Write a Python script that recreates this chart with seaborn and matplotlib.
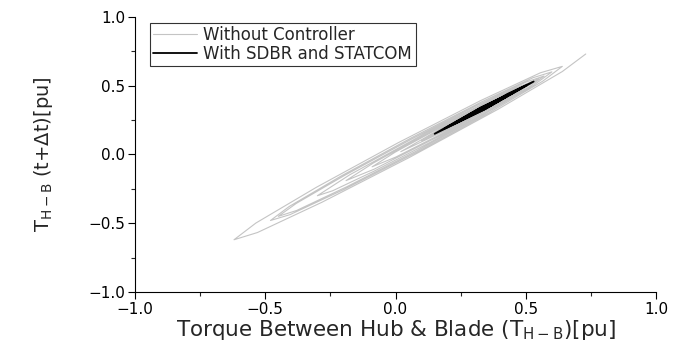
import pandas as pd
import matplotlib
matplotlib.use("Agg")
import matplotlib.pyplot as plt
from matplotlib.ticker import MultipleLocator
import seaborn as sns

# Phase plot vertices: T(t) on x, T(t+dt) on y
gray_x = [0.73, 0.640, 0.3925, 0.055, -0.2825, -0.530, -0.62,
          -0.536, -0.305, 0.01, 0.325, 0.556, 0.64,
          0.565, 0.36, 0.08, -0.20, -0.405, -0.48,
          -0.4076, -0.21, 0.06, 0.33, 0.5276, 0.60,
          0.5297, 0.3375, 0.075, -0.1875, -0.3797, -0.45,
          -0.3817, -0.195, 0.06, 0.315, 0.5017, 0.57,
          0.5117, 0.3525, 0.135, -0.0825, -0.2417, -0.30,
          -0.175, 0.125, 0.425, 0.55,
          0.442, 0.18, -0.082, -0.19,
          -0.085, 0.17, 0.425, 0.53,
          0.439, 0.22, 0.001, -0.09,
          -0.002, 0.21, 0.422, 0.51,
          0.265, 0.02, 0.255, 0.49, 0.295, 0.10, 0.285, 0.47,
          0.32, 0.17, 0.31, 0.45, 0.33, 0.21, 0.315, 0.42,
          0.335, 0.25, 0.32, 0.39, 0.34, 0.29, 0.32, 0.35, 0.33]
gray_y = [0.73, 0.6025, 0.3275, -0.02, -0.3475, -0.5675, -0.62,
          -0.4985, -0.24, 0.085, 0.39, 0.5935, 0.64,
          0.5325, 0.3037, 0.015, -0.2563, -0.4375, -0.48,
          -0.3776, -0.158, 0.12, 0.382, 0.5576, 0.60,
          0.5022, 0.2899, 0.02, -0.2351, -0.4072, -0.45,
          -0.3567, -0.1517, 0.11, 0.3583, 0.5267, 0.57,
          0.4892, 0.3135, 0.09, -0.1215, -0.2642, -0.30,
          -0.147, 0.165, 0.453, 0.55,
          0.417, 0.145, -0.107, -0.19,
          -0.062, 0.202, 0.448, 0.53,
          0.419, 0.192, -0.019, -0.09,
          0.016, 0.235, 0.44, 0.51,
          0.24, 0.02, 0.277, 0.49, 0.275, 0.10, 0.303, 0.47,
          0.305, 0.17, 0.323, 0.45, 0.318, 0.21, 0.325, 0.42,
          0.327, 0.25, 0.327, 0.39, 0.335, 0.29, 0.324, 0.35, 0.33]

black_x = [0.33, 0.43, 0.53, 0.34, 0.15, 0.325, 0.50, 0.345, 0.19,
           0.33, 0.47, 0.345, 0.22, 0.33, 0.44, 0.35, 0.26, 0.335, 0.41,
           0.35, 0.29, 0.335, 0.38, 0.345, 0.31, 0.33, 0.35, 0.33]
black_y = [0.33, 0.44, 0.53, 0.325, 0.15, 0.339, 0.50, 0.332, 0.19,
           0.342, 0.47, 0.334, 0.22, 0.34, 0.44, 0.341, 0.26, 0.343, 0.41,
           0.343, 0.29, 0.341, 0.38, 0.34, 0.31, 0.334, 0.35, 0.33]

ticks = [-1.0, -0.5, 0.0, 0.5, 1.0]
tick_labels = ["\u22121.0", "\u22120.5", "0.0", "0.5", "1.0"]

gray_df = pd.DataFrame({"x": gray_x, "y": gray_y})
black_df = pd.DataFrame({"x": black_x, "y": black_y})

sns.set_theme(style="ticks")
plt.rcParams["font.family"] = ["DejaVu Sans"]

fig = plt.figure(figsize=(6.75, 3.51), dpi=100)
ax = fig.add_axes([0.2, 0.168, 0.772, 0.784])

sns.lineplot(data=gray_df, x="x", y="y", sort=False, estimator=None,
             color="#c4c4c4", linewidth=0.8, label="Without Controller", ax=ax)
sns.lineplot(data=black_df, x="x", y="y", sort=False, estimator=None,
             color="black", linewidth=1.3, label="With SDBR and STATCOM", ax=ax)

ax.set_xlim(-1, 1)
ax.set_ylim(-1, 1)
ax.set_xticks(ticks)
ax.set_xticklabels(tick_labels)
ax.set_yticks(ticks)
ax.set_yticklabels(tick_labels)
ax.xaxis.set_minor_locator(MultipleLocator(0.25))
ax.yaxis.set_minor_locator(MultipleLocator(0.25))
ax.tick_params(which="major", direction="out", length=5, width=0.8,
               labelsize=11, colors="black", pad=2)
ax.tick_params(which="minor", direction="out", length=3, width=0.8)
sns.despine(ax=ax)
for s in ["left", "bottom"]:
    ax.spines[s].set_color("black")
    ax.spines[s].set_linewidth(0.8)

ax.set_xlabel(r"Torque Between Hub & Blade (T$_{\mathregular{H-B}}$)[pu]",
              fontsize=15.5, labelpad=1)
ax.set_ylabel(r"T$_{\mathregular{H-B}}$ (t+$\Delta$t)[pu]", fontsize=14,
              labelpad=24)

leg = ax.legend(loc="upper left", bbox_to_anchor=(0.029, 0.978), fontsize=12,
                frameon=True, fancybox=False, handlelength=2.6, handletextpad=0.4,
                borderpad=0.2, labelspacing=0.05, borderaxespad=0)
leg.get_frame().set_edgecolor("black")
leg.get_frame().set_linewidth(0.8)

fig.savefig("out.png", dpi=100)
